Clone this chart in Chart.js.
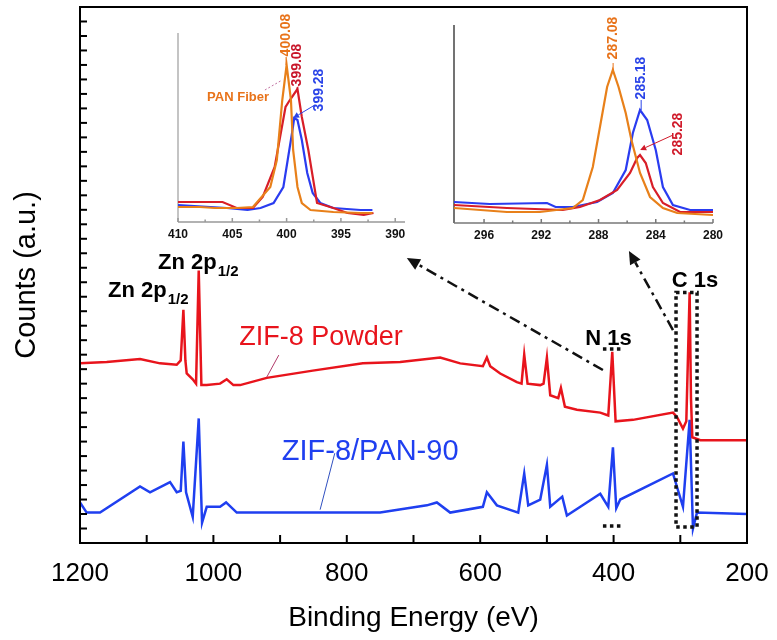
<!DOCTYPE html>
<html>
<head>
<meta charset="utf-8">
<script src="https://cdn.jsdelivr.net/npm/chart.js@4.4.0/dist/chart.umd.min.js"></script>
<style>
  html, body { margin: 0; padding: 0; background: #fff; }
  #wrap { position: relative; width: 777px; height: 640px; }
  #wrap canvas { position: absolute; top: 0; }
  #mainChart { left: 0; }
  #inset1 { left: 150px; }
  #inset2 { left: 430px; }
</style>
</head>
<body>
<div id="wrap">
  <canvas id="mainChart" width="777" height="640"></canvas>
  <canvas id="inset1" width="270" height="250"></canvas>
  <canvas id="inset2" width="300" height="250"></canvas>
</div>
<script>
// Survey spectra (binding energy in eV, counts in a.u.)
const powderEnergy = [1200,1160,1110,1080,1055,1049,1045,1042,1040,1031,1026,1022,1018,1010,990,980,970,960,920,851,776,720,660,630,596,590,585,570,545,538,534,529,510,505,500,495,483,479,473,455,420,408,402,397,371,311,305,296,291,286,284,282,270,200];
const powderCounts = [12.4,12.5,12.7,12.4,12.3,12.6,16.1,12.6,11.7,11.3,11.0,18.8,10.9,10.9,11.0,11.3,10.9,10.9,11.4,11.9,12.4,12.5,12.8,12.4,12.2,12.8,12.2,11.7,11.1,11.0,13.0,11.0,10.9,11.0,12.8,10.2,10.0,10.7,9.4,9.2,9.0,8.8,13.2,8.4,8.5,9.0,8.7,7.9,8.4,17.3,10.0,7.3,7.1,7.1];
const pan90Energy = [1200,1190,1170,1110,1095,1065,1055,1049,1045,1041,1031,1022,1017,1010,990,981,965,851,750,680,665,645,596,590,575,543,534,528,510,500,495,477,470,420,408,401,396,390,311,296,286,281,275,200];
const pan90Counts = [2.8,2.1,2.1,3.9,3.5,4.2,3.5,3.6,7.0,3.5,1.8,8.6,1.4,2.5,2.5,2.8,2.1,2.1,2.1,2.6,2.8,2.1,2.5,3.5,2.6,2.1,4.8,2.6,3.0,5.4,2.5,3.2,1.9,3.4,2.5,6.6,2.4,3.0,4.8,2.5,8.5,1.0,2.1,2.0];
const energyTicks = [1200, 1000, 800, 600, 400, 200];
const energyMinorTicks = [1100, 900, 700, 500, 300];

// N 1s inset
const n1sFiberE = [410,408,406.6,404.6,403.1,401.5,400.9,400.4,400.0,399.6,399.4,399.0,398.6,397.8,395.7,393.2,392.1];
const n1sFiberI = [15,15,14,14,15,35,62,122,157,122,72,35,19,12,10,9,9];
const n1sPowderE = [410,405.9,404.6,403.1,402.2,401.1,400.1,399.7,399.0,398.6,398.0,397.2,395.7,394.4,392.9,392.0];
const n1sPowderI = [20,20,14,14,25,55,115,122,133,105,72,19,14,9,7,9];
const n1sPan90E = [410,405.5,403.6,402.4,401.2,400.3,399.9,399.5,399.3,399.0,398.6,398.1,397.6,396.9,395.7,393.2,392.1];
const n1sPan90I = [17,14,12,14,19,35,62,89,104,102,82,49,29,19,14,12,12];
const n1sTicks = [410, 405, 400, 395, 390];
const n1sMinorTicks = [407.5, 402.5, 397.5, 392.5];

// C 1s inset
const c1sFiberE = [298.1,294.4,292.1,289.8,289.1,288.4,287.9,287.4,287.0,286.6,286.1,285.7,285.1,284.4,283.5,282.5,280];
const c1sFiberI = [15,11,11,15,23,56,96,136,153,136,110,83,50,26,15,10,8];
const c1sPan90E = [298.1,295.6,291.6,291.0,289.8,288.1,287.0,286.1,285.6,285.1,284.6,284.0,283.5,282.8,281.6,280];
const c1sPan90I = [21,19,20,16,16,21,30,53,90,113,103,73,36,18,13,13];
const c1sPowderE = [298.1,294.4,290.5,289.3,287.9,286.7,285.8,285.3,285.1,284.7,284.2,283.5,282.3,280];
const c1sPowderI = [18,15,13,16,23,33,50,65,68,60,36,20,11,11];
const c1sTicks = [296, 292, 288, 284, 280];
const c1sMinorTicks = [294, 290, 286, 282];

const RED = '#e8141c';
const BLUE = '#1f3ff0';
const ORANGE = '#e8801a';
const FONT = '"Liberation Sans", Arial, sans-serif';

Chart.defaults.font.family = FONT;
Chart.defaults.color = '#000';

const pts = (xs, ys) => xs.map((x, i) => ({ x: x, y: ys[i] }));

function lineSet(label, xs, ys, color, width) {
    return { label: label, data: pts(xs, ys), borderColor: color, borderWidth: width,
             pointRadius: 0, fill: false, tension: 0 };
}

function seg(ctx, x1, y1, x2, y2) {
    ctx.beginPath(); ctx.moveTo(x1, y1); ctx.lineTo(x2, y2); ctx.stroke();
}

function arrowHead(ctx, x1, y1, x2, y2, len, half) {
    const a = Math.atan2(y2 - y1, x2 - x1);
    const bx = x2 - len * Math.cos(a), by = y2 - len * Math.sin(a);
    ctx.beginPath();
    ctx.moveTo(x2, y2);
    ctx.lineTo(bx + half * Math.sin(a), by - half * Math.cos(a));
    ctx.lineTo(bx - half * Math.sin(a), by + half * Math.cos(a));
    ctx.closePath();
    ctx.fill();
}

// arrow whose shaft stops at the base of the head
function arrow(ctx, x1, y1, x2, y2, len, half) {
    const a = Math.atan2(y2 - y1, x2 - x1);
    seg(ctx, x1, y1, x2 - len * Math.cos(a), y2 - len * Math.sin(a));
    ctx.setLineDash([]);
    arrowHead(ctx, x1, y1, x2, y2, len, half);
}

function subLabel(ctx, text, sub, x, y) {
    ctx.textAlign = 'left';
    ctx.textBaseline = 'alphabetic';
    ctx.font = 'bold 22px ' + FONT;
    ctx.fillText(text, x, y);
    const w = ctx.measureText(text).width;
    ctx.font = 'bold 15px ' + FONT;
    ctx.fillText(sub, x + w + 1, y + 7);
}

function upText(ctx, text, x, y, color) {
    ctx.save();
    ctx.translate(x, y);
    ctx.rotate(-Math.PI / 2);
    ctx.fillStyle = color;
    ctx.textAlign = 'center';
    ctx.textBaseline = 'middle';
    ctx.fillText(text, 0, 0);
    ctx.restore();
}

// frame, inward ticks and peak labels of the survey plot
const surveyDecor = {
    id: 'surveyDecor',
    afterDatasetsDraw(chart) {
        const { ctx, chartArea: a, scales: { x, y } } = chart;
        const px = v => x.getPixelForValue(v);
        const py = v => y.getPixelForValue(v);
        ctx.save();
        ctx.strokeStyle = '#000';
        ctx.lineWidth = 2;
        ctx.strokeRect(a.left, a.top, a.right - a.left, a.bottom - a.top);
        energyTicks.concat(energyMinorTicks).forEach(v => seg(ctx, px(v), a.bottom, px(v), a.bottom - 8));
        for (let v = 1; v < 37; v++) seg(ctx, a.left, py(v), a.left + 7, py(v));

        // dotted markers on N 1s and C 1s
        ctx.strokeStyle = '#111';
        ctx.lineWidth = 3.5;
        ctx.setLineDash([3.5, 3.5]);
        ctx.strokeRect(px(306.4), py(17.3), px(274.9) - px(306.4), py(1.1) - py(17.3));
        seg(ctx, px(416), py(13.4), px(387.4), py(13.4));
        seg(ctx, px(416), py(1.17), px(387.4), py(1.17));

        // dash-dot arrows towards the insets
        ctx.fillStyle = '#111';
        ctx.lineWidth = 2.5;
        ctx.setLineDash([11, 5, 3, 5]);
        arrow(ctx, px(416), py(11.94), px(710), py(19.67), 13, 6);
        ctx.setLineDash([11, 5, 3, 5]);
        arrow(ctx, px(311), py(14.7), px(377), py(20.15), 13, 6);
        ctx.setLineDash([]);

        // peak names
        ctx.fillStyle = '#000';
        subLabel(ctx, 'Zn 2p', '1/2', px(1158), py(16.98));
        subLabel(ctx, 'Zn 2p', '1/2', px(1083), py(18.91));
        ctx.font = 'bold 22px ' + FONT;
        ctx.textAlign = 'center';
        ctx.fillText('N 1s', px(407.6), py(13.66));
        ctx.fillText('C 1s', px(277.9), py(17.67));

        // sample names with pointer lines
        ctx.font = '27px ' + FONT;
        ctx.fillStyle = RED;
        ctx.fillText('ZIF-8 Powder', px(838.7), py(13.66));
        ctx.font = '29px ' + FONT;
        ctx.fillStyle = BLUE;
        ctx.fillText('ZIF-8/PAN-90', px(765), py(5.73));
        ctx.lineWidth = 1;
        ctx.strokeStyle = '#b03a6a';
        seg(ctx, px(902), py(12.97), px(920), py(11.45));
        ctx.strokeStyle = '#3050c0';
        seg(ctx, px(818), py(6.2), px(840), py(2.3));
        ctx.restore();
    }
};

new Chart(document.getElementById('mainChart'), {
    type: 'line',
    data: {
        datasets: [
            lineSet('ZIF-8 Powder', powderEnergy, powderCounts, RED, 2.5),
            lineSet('ZIF-8/PAN-90', pan90Energy, pan90Counts, BLUE, 2.5)
        ]
    },
    options: {
        responsive: false,
        animation: false,
        devicePixelRatio: 1,
        layout: { padding: { left: 0, right: 30, top: 7, bottom: 0 } },
        plugins: { legend: { display: false }, tooltip: { enabled: false } },
        scales: {
            x: {
                type: 'linear', reverse: true, min: 200, max: 1200,
                grid: { display: false, drawTicks: false },
                border: { display: false },
                afterBuildTicks: s => { s.ticks = energyTicks.map(v => ({ value: v })); },
                ticks: { font: { size: 26 }, padding: 15, maxRotation: 0, autoSkip: false,
                         callback: v => String(v) },
                title: { display: true, text: 'Binding Energy (eV)', font: { size: 28 },
                         padding: { top: 0, bottom: 5 } },
                afterFit: s => { s.height = 97; s.paddingLeft = 0; s.paddingRight = 0; }
            },
            y: {
                type: 'linear', min: 0, max: 37,
                grid: { display: false, drawTicks: false },
                border: { display: false },
                ticks: { display: false },
                title: { display: true, text: 'Counts (a.u.)', font: { size: 29 },
                         padding: { top: 10, bottom: 0 } },
                afterFit: s => { s.width = 80; s.paddingTop = 0; s.paddingBottom = 0; }
            }
        }
    },
    plugins: [surveyDecor]
});

// inset axes: left and bottom lines plus small inward ticks
function insetAxes(leftColor, bottomColor, major, minor) {
    return {
        id: 'insetAxes',
        beforeDatasetsDraw(chart) {
            const { ctx, chartArea: a, scales: { x } } = chart;
            ctx.save();
            ctx.lineWidth = 1.5;
            ctx.strokeStyle = leftColor;
            seg(ctx, a.left, a.top, a.left, a.bottom);
            ctx.strokeStyle = bottomColor;
            seg(ctx, a.left, a.bottom, a.right, a.bottom);
            major.forEach(v => seg(ctx, x.getPixelForValue(v), a.bottom, x.getPixelForValue(v), a.bottom - 4));
            minor.forEach(v => seg(ctx, x.getPixelForValue(v), a.bottom, x.getPixelForValue(v), a.bottom - 2.5));
            ctx.restore();
        }
    };
}

function makeInset(id, datasets, xMin, xMax, yMax, ticks, pad, axisHeight, plugins) {
    return new Chart(document.getElementById(id), {
        type: 'line',
        data: { datasets: datasets },
        options: {
            responsive: false,
            animation: false,
            devicePixelRatio: 1,
            layout: { padding: pad },
            plugins: { legend: { display: false }, tooltip: { enabled: false } },
            scales: {
                x: {
                    type: 'linear', reverse: true, min: xMin, max: xMax,
                    grid: { display: false, drawTicks: false },
                    border: { display: false },
                    afterBuildTicks: s => { s.ticks = ticks.map(v => ({ value: v })); },
                    ticks: { font: { size: 12, weight: 'bold' }, padding: 5, maxRotation: 0,
                             autoSkip: false, color: '#111', callback: v => String(v) },
                    afterFit: s => { s.height = axisHeight; s.paddingLeft = 0; s.paddingRight = 0; }
                },
                y: { display: false, min: 0, max: yMax }
            }
        },
        plugins: plugins
    });
}

const n1sLabels = {
    id: 'n1sLabels',
    afterDatasetsDraw(chart) {
        const { ctx, scales: { x, y } } = chart;
        const px = v => x.getPixelForValue(v);
        const py = v => y.getPixelForValue(v);
        ctx.save();
        ctx.font = 'bold 14px ' + FONT;
        upText(ctx, '400.08', px(400.05), py(187), '#e8731a');
        upText(ctx, '399.08', px(399.03), py(157), '#c8162a');
        upText(ctx, '399.28', px(397.0), py(132), '#2a44e8');
        ctx.lineWidth = 1;
        ctx.strokeStyle = '#e8731a';
        seg(ctx, px(400.05), py(165), px(400.05), py(157));
        ctx.strokeStyle = '#c8162a';
        seg(ctx, px(399.03), py(135), px(399.03), py(132));
        ctx.strokeStyle = '#2a44e8';
        ctx.fillStyle = '#2a44e8';
        arrow(ctx, px(397.4), py(117), px(399.4), py(104), 6, 3);
        ctx.font = 'bold 13px ' + FONT;
        ctx.fillStyle = '#e8731a';
        ctx.textAlign = 'center';
        ctx.textBaseline = 'middle';
        ctx.fillText('PAN Fiber', px(404.47), py(125));
        ctx.strokeStyle = '#c070a0';
        ctx.setLineDash([2, 2]);
        seg(ctx, px(402.0), py(132), px(400.4), py(142));
        ctx.restore();
    }
};

const c1sLabels = {
    id: 'c1sLabels',
    afterDatasetsDraw(chart) {
        const { ctx, scales: { x, y } } = chart;
        const px = v => x.getPixelForValue(v);
        const py = v => y.getPixelForValue(v);
        ctx.save();
        ctx.font = 'bold 14px ' + FONT;
        upText(ctx, '287.08', px(286.98), py(185), '#e8731a');
        upText(ctx, '285.18', px(285.02), py(145), '#2a44e8');
        upText(ctx, '285.28', px(282.44), py(89), '#d01a2a');
        ctx.lineWidth = 1;
        ctx.strokeStyle = '#e8731a';
        seg(ctx, px(286.98), py(160), px(286.98), py(153));
        ctx.strokeStyle = '#2a44e8';
        seg(ctx, px(285.02), py(123), px(285.02), py(113));
        ctx.strokeStyle = '#d01a2a';
        ctx.fillStyle = '#d01a2a';
        arrow(ctx, px(282.79), py(88), px(285.09), py(73), 6, 3);
        ctx.restore();
    }
};

makeInset('inset1', [
    lineSet('PAN Fiber', n1sFiberE, n1sFiberI, ORANGE, 2.2),
    lineSet('ZIF-8 Powder', n1sPowderE, n1sPowderI, '#d81e28', 2.2),
    lineSet('ZIF-8/PAN-90', n1sPan90E, n1sPan90I, '#2a3cf0', 2.2)
], 389.1, 410, 189, n1sTicks, { left: 28, right: 15, top: 33, bottom: 0 }, 28,
   [insetAxes('#b0b0b0', '#999', n1sTicks, n1sMinorTicks), n1sLabels]);

makeInset('inset2', [
    lineSet('PAN Fiber', c1sFiberE, c1sFiberI, ORANGE, 2.2),
    lineSet('ZIF-8 Powder', c1sPowderE, c1sPowderI, '#d81e28', 2.2),
    lineSet('ZIF-8/PAN-90', c1sPan90E, c1sPan90I, '#2a3cf0', 2.2)
], 280, 298.1, 198, c1sTicks, { left: 24, right: 17, top: 25, bottom: 0 }, 27,
   [insetAxes('#444', '#777', c1sTicks, c1sMinorTicks), c1sLabels]);
</script>
</body>
</html>
